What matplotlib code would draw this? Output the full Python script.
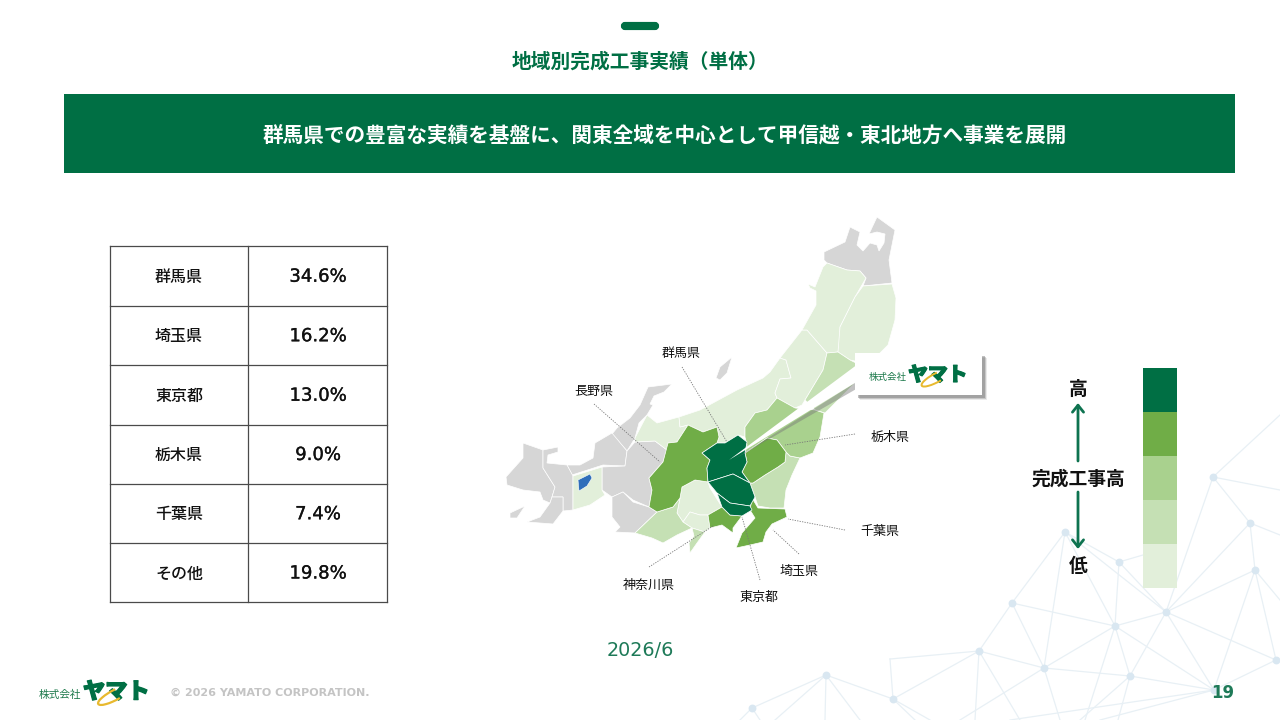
import matplotlib
matplotlib.use("Agg")
import matplotlib.pyplot as plt
import matplotlib.patheffects as pe
from matplotlib.patches import Polygon, Rectangle, FancyBboxPatch, Arc

plt.rcParams['font.family'] = ['Noto Sans CJK JP', 'DejaVu Sans']

GREEN = '#006F44'
C1, C2, C3, C4, C5 = '#006F44', '#70AD47', '#A9D18E', '#C5E0B4', '#E2EFDA'
GREY = '#D6D6D6'

# table
prefectures = ['群馬県', '埼玉県', '東京都', '栃木県', '千葉県', 'その他']
shares = ['34.6%', '16.2%', '13.0%', '9.0%', '7.4%', '19.8%']
row_edges = [246, 305.5, 365, 424.5, 483.5, 543, 602]

# map outlines
grey_areas = [
    [(824,252),(845,242),(850,227),(860,232),(857,245),(863,251),(870,243),(877,245),(879,251),(884,243),(885,234),(877,232),(869,234),(877,217),(895,230),(889,260),(892,283),(863,286),(866,278),(860,271),(847,270),(827,263),(824,260)],
    [(732,357),(727,373),(720,380),(716,378),(720,367)],
    [(648,387),(672,384),(664,392),(654,396),(650,404),(653,405),(647,415),(639,423),(635,438),(627,451),(612,434),(617,428),(630,418),(640,405)],
    [(612,433),(627,451),(625,466),(603,465),(572,475),(567,465),(580,465),(593,458),(595,443)],
    [(627,451),(635,442),(655,441),(667,450),(663,462),(649,478),(652,490),(649,507),(633,500),(623,492),(612,497),(602,490),(602,467),(625,466)],
    [(612,497),(623,492),(633,502),(649,507),(657,512),(635,533),(615,532),(620,527),(612,517)],
    [(523,443),(543,450),(543,468),(555,487),(552,497),(550,503),(543,500),(540,492),(523,490),(507,485),(506,477),(523,458)],
    [(543,450),(558,447),(558,452),(548,455),(547,463),(567,465),(573,476),(573,510),(563,511),(563,497),(552,497),(555,487),(543,468)],
    [(552,497),(563,497),(563,511),(553,524),(527,522),(540,517),(550,503)],
    [(510,513),(525,506),(517,518),(510,518)],
]
level5_areas = [
    [(573,476),(602,467),(602,490),(605,495),(590,505),(573,510)],
    [(635,438),(647,415),(657,423),(679,417),(680,427),(688,425),(677,442),(668,443),(667,450),(655,441),(635,442)],
    [(679,417),(700,410),(737,390),(763,378),(770,372),(780,358),(786,360),(791,378),(780,379),(775,393),(777,398),(767,410),(755,413),(745,427),(745,437),(738,435),(725,443),(717,443),(719,437),(717,427),(703,432),(688,425),(680,427)],
    [(775,393),(780,379),(791,378),(786,360),(780,358),(802,330),(807,330),(827,353),(823,370),(805,400),(802,405),(795,408),(777,398)],
    [(827,263),(847,270),(860,271),(866,278),(855,297),(840,327),(840,340),(838,352),(827,353),(807,330),(802,330),(816,305),(816,291),(810,288),(808,284),(815,287),(823,267)],
    [(863,286),(892,284),(896,298),(895,320),(888,345),(878,355),(860,362),(850,360),(838,352),(840,327),(855,297)],
    [(682,487),(695,480),(708,482),(710,488),(722,507),(708,515),(700,515),(690,512),(683,522),(677,513),(680,498)],
    [(683,522),(690,512),(700,515),(708,515),(710,528),(705,532),(692,528)],
]
level4_areas = [
    [(827,353),(838,352),(850,360),(860,365),(858,380),(825,413),(815,410),(805,400),(823,370)],
    [(635,533),(657,512),(673,507),(680,498),(677,513),(683,522),(692,528),(677,535),(663,543),(652,538)],
    [(692,528),(705,532),(697,543),(690,553),(689,543),(694,536)],
    [(786,452),(790,456),(800,458),(792,475),(786,490),(784,508),(770,508),(758,506),(755,497),(750,483),(753,483),(765,475),(778,467),(785,462)],
]
level3_areas = [
    [(745,427),(755,413),(767,410),(777,398),(795,408),(815,410),(824,413),(820,437),(813,453),(800,458),(790,456),(786,452),(777,440),(767,438),(757,445),(745,453),(747,445),(745,437)],
]
level2_areas = [
    [(649,478),(663,462),(668,443),(677,442),(688,425),(703,432),(717,427),(719,437),(717,443),(702,453),(710,460),(707,468),(708,482),(695,480),(682,487),(680,498),(673,507),(657,512),(649,507),(652,490)],
    [(742,472),(747,462),(745,453),(757,445),(767,438),(777,440),(786,452),(785,462),(778,467),(765,475),(753,483),(750,483)],
    [(752,498),(758,508),(785,509),(787,517),(772,524),(766,532),(763,542),(750,545),(736,548),(742,533),(755,518),(750,510)],
    [(708,515),(722,507),(730,515),(742,516),(733,528),(733,533),(722,525),(710,528)],
]
level1_areas = [
    [(702,453),(717,443),(725,443),(738,435),(747,442),(745,453),(747,462),(742,472),(750,483),(733,474),(708,482),(707,468),(710,460)],
    [(708,482),(733,474),(750,483),(755,497),(750,506),(730,503),(717,493)],
    [(717,493),(730,503),(750,506),(752,510),(742,516),(730,515),(722,507)],
]
blue_area = [(578,480),(590,474),(592,478),(587,486),(579,491)]

# map labels with the end points of their leaders
map_labels = ['群馬県', '長野県', '栃木県', '千葉県', '埼玉県', '神奈川県', '東京都']
label_xy = [(681,353), (594,390), (890,436), (880,531), (799,571), (649,584), (759,596)]
leaders = [
    [(682,367),(727,442)], [(594,404),(660,462)], [(855,434),(785,445)], [(845,530),(788,519)],
    [(799,554),(773,530)], [(649,567),(713,526)], [(760,580),(742,517)],
]

legend_colors = [C1, C2, C3, C4, C5]
legend_edges = [367.5, 411.5, 455.5, 499.5, 543.5, 587.5]

# background network
nodes = {'A':(1213,477),'B':(1250,523),'C':(1255,570),'D':(1166,612),'E':(1119,562),'F':(1065,532),
         'G':(1012,603),'H':(1115,626),'I':(979,651),'J':(1044,668),'K':(1130,676),'L':(826,675),
         'M':(893,699),'N':(752,708),'O':(1276,660),'P':(1214,690)}
extra = {'Q':(890,659),'r1':(1280,415),'r2':(1280,490),'r3':(1280,535),'r4':(1280,600),'l1':(1143,555),
         'b1':(1020,720),'b2':(975,720),'b3':(825,720),'b4':(775,720),'b5':(930,720),'b6':(915,720),
         'b7':(960,720),'b8':(1060,720),'b9':(1085,720),'b10':(1080,720),'b11':(1118,720),'b12':(1100,720),
         'b13':(740,720),'b14':(1010,720),'b15':(760,720),'b16':(860,720)}
edges = ['A-B','A-r1','A-r2','A-D','B-D','B-C','B-r3','C-D','C-r4','C-O','C-P','E-D','E-l1','E-H','F-G','F-J','F-H',
         'F-D','F-E','G-H','G-I','G-J','H-D','H-J','H-K','H-P','D-K','D-P','D-O','K-P','K-J','J-I','I-Q','Q-M',
         'I-M','I-b1','I-b2','L-M','L-N','L-b3','L-b4','M-b5','M-b6','J-b7','J-b8','H-b9','K-b10','K-b11','P-b12',
         'O-P','N-b13','N-b15','L-b16','P-b14']

fig = plt.figure(figsize=(12.8, 7.2), dpi=100)
ax = fig.add_axes([0, 0, 1, 1])
ax.set_xlim(0, 1280)
ax.set_ylim(720, 0)
ax.axis('off')

pts = {**nodes, **extra}
for e in edges:
    a, b = e.split('-')
    ax.plot([pts[a][0], pts[b][0]], [pts[a][1], pts[b][1]], color='#E8F0F5', lw=0.9, zorder=1)
ax.scatter([p[0] for p in nodes.values()], [p[1] for p in nodes.values()], s=32, color='#D9E7F1', linewidths=0, zorder=1)

# header
ax.add_patch(FancyBboxPatch((623, 24), 34, 4, boxstyle='round,pad=0,rounding_size=2', mutation_aspect=1,
                            fc=GREEN, ec=GREEN, lw=3, zorder=3))
ax.text(640, 62, '地域別完成工事実績（単体）', fontsize=14.2, fontweight='bold', color=GREEN, ha='center', va='center')
ax.add_patch(Rectangle((64, 94), 1171, 79, fc=GREEN, ec='none', zorder=2))
ax.text(664.5, 136.5, '群馬県での豊富な実績を基盤に、関東全域を中心として甲信越・東北地方へ事業を展開', fontsize=14.85,
        fontweight='bold', color='white', ha='center', va='center', zorder=3)

# table
for y in row_edges:
    ax.plot([110, 387], [y, y], color='#4A4A4A', lw=0.9, zorder=3)
for x in [110, 248, 387]:
    ax.plot([x, x], [row_edges[0], row_edges[-1]], color='#4A4A4A', lw=0.9, zorder=3)
thick = [pe.withStroke(linewidth=0.2, foreground='#111111')]
for i, (name, share) in enumerate(zip(prefectures, shares)):
    yc = (row_edges[i] + row_edges[i + 1]) / 2
    ax.text(179, yc + 1.5, name, fontsize=11.5, fontweight='medium', ha='center', va='center', color='#111111', zorder=4)
    ax.text(318, yc + 1, share, fontsize=13, family=['DejaVu Sans'], ha='center', va='center', color='#111111',
            zorder=4, path_effects=thick)

# map
groups = [(grey_areas, GREY), (level5_areas, C5), (level4_areas, C4), (level3_areas, C3), (level2_areas, C2), (level1_areas, C1)]
for areas, color in groups:
    for poly in areas:
        ax.add_patch(Polygon(poly, closed=True, fc=color, ec='white', lw=0.5, zorder=4))
ax.add_patch(Polygon(blue_area, closed=True, fc='#2F6EBA', ec='white', lw=0.4, zorder=5))

for seg in leaders:
    ax.plot([seg[0][0], seg[1][0]], [seg[0][1], seg[1][1]], color='#777777', lw=0.6, ls=(0, (1.5, 1.5)), zorder=6)
for name, xy in zip(map_labels, label_xy):
    ax.text(xy[0], xy[1] + 1, name, fontsize=9.4, ha='center', va='center', color='#111111', zorder=7)


def draw_logo(x, y, k):
    ax.text(x, y + 3 * k, '株式会社', fontsize=7.7 * k, color='#1E7A4C', ha='left', va='center', zorder=10)
    ax.text(x + 44 * k, y, 'ヤマト', fontsize=16 * k, fontweight='black', color=GREEN, ha='left', va='center', zorder=10,
            path_effects=[pe.withStroke(linewidth=0.9 * k, foreground=GREEN)])
    ax.add_patch(Arc((x + 76 * k, y + 3 * k), 38 * k, 10 * k, angle=-28, theta1=60, theta2=300,
                     color='#E8B92E', lw=1.6 * k, zorder=11))


# callout pointing to the Gunma area
ax.add_patch(Polygon([(733,460),(858,381),(858,388)], closed=True, fc='#777777', alpha=0.45, ec='none', zorder=8))
ax.add_patch(Polygon([(729,460),(858,364),(858,381)], closed=True, fc='white', ec='none', zorder=9))
for off, a in [(4.5, 0.15), (3.5, 0.3), (2.5, 0.45)]:
    ax.add_patch(Rectangle((855 + off, 353 + off), 127, 42, fc='#777777', alpha=a, ec='none', zorder=8.5))
ax.add_patch(Rectangle((855, 353), 127, 42, fc='white', ec='none', zorder=9))
draw_logo(869, 375, 0.89)
draw_logo(39, 692, 1.0)

# legend
for i, c in enumerate(legend_colors):
    ax.add_patch(Rectangle((1143, legend_edges[i]), 34, legend_edges[i + 1] - legend_edges[i], fc=c, ec='none', zorder=3))
ax.text(1078, 389, '高', fontsize=13.5, fontweight='bold', ha='center', va='center', color='#111111', zorder=4)
ax.text(1078, 479, '完成工事高', fontsize=13.5, fontweight='bold', ha='center', va='center', color='#111111', zorder=4)
ax.text(1078, 567, '低', fontsize=13.5, fontweight='bold', ha='center', va='center', color='#111111', zorder=4)
for y0, y1 in [(461, 403), (492, 549)]:
    ax.annotate('', xy=(1078, y1), xytext=(1078, y0), zorder=4,
                arrowprops=dict(arrowstyle='->,head_length=0.5,head_width=0.4', color='#0E7350', lw=2,
                                shrinkA=0, shrinkB=0))

# footer
ax.text(640, 651, '2026/6', fontsize=13.8, family=['DejaVu Sans'], color='#1E7A58', ha='center', va='center', zorder=4)
ax.text(170, 693, '© 2026 YAMATO CORPORATION.', fontsize=8.05, fontweight='bold', family=['DejaVu Sans'],
        color='#C4C4C4', ha='left', va='center', zorder=4)
ax.text(1223, 693, '19', fontsize=12, fontweight='bold', family=['DejaVu Sans'], color='#1E7A58',
        ha='center', va='center', zorder=4)

fig.savefig('out.png', dpi=100)
